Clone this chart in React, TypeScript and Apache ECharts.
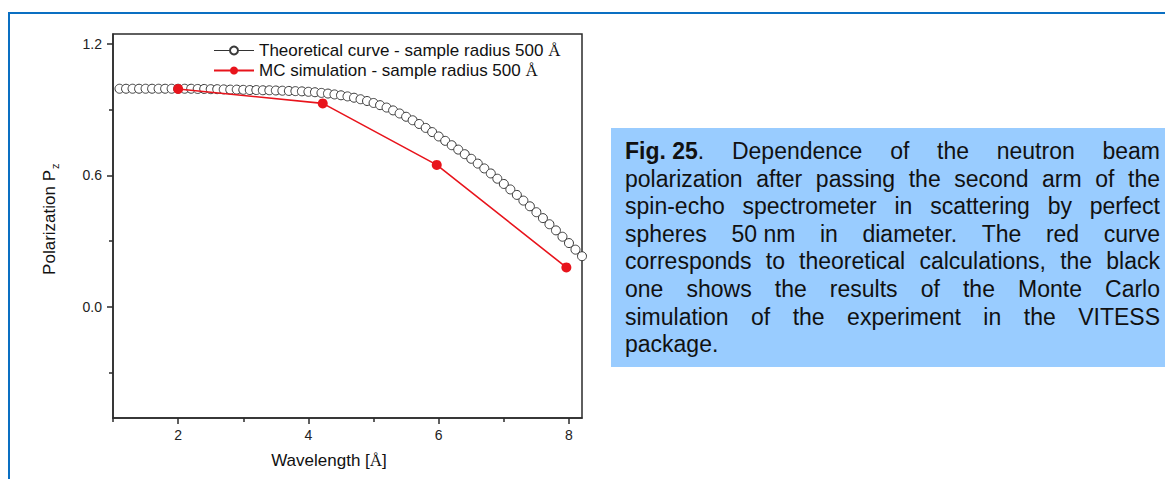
import React, { useEffect, useRef } from "react";
import * as echarts from "echarts";

// ---------- data ----------
const theoryX = [
  1.1, 1.2, 1.3, 1.4, 1.5, 1.6, 1.7, 1.8, 1.9, 2.0,
  2.1, 2.2, 2.3, 2.4, 2.5, 2.6, 2.7, 2.8, 2.9, 3.0,
  3.1, 3.2, 3.3, 3.4, 3.5, 3.6, 3.7, 3.8, 3.9, 4.0,
  4.1, 4.2, 4.3, 4.4, 4.5, 4.6, 4.7, 4.8, 4.9, 5.0,
  5.1, 5.2, 5.3, 5.4, 5.5, 5.6, 5.7, 5.8, 5.9, 6.0,
  6.1, 6.2, 6.3, 6.4, 6.5, 6.6, 6.7, 6.8, 6.9, 7.0,
  7.1, 7.2, 7.3, 7.4, 7.5, 7.6, 7.7, 7.8, 7.9, 8.0, 8.1, 8.2,
];
const theoryY = [
  0.996, 0.996, 0.996, 0.996, 0.996, 0.996, 0.996, 0.996, 0.996, 0.996,
  0.996, 0.996, 0.995, 0.995, 0.994, 0.994, 0.993, 0.992, 0.992, 0.991,
  0.990, 0.990, 0.989, 0.989, 0.988, 0.987, 0.986, 0.985, 0.984, 0.982,
  0.980, 0.977, 0.974, 0.970, 0.966, 0.961, 0.955, 0.948, 0.940, 0.931,
  0.921, 0.910, 0.897, 0.883, 0.868, 0.852, 0.835, 0.817, 0.798, 0.778,
  0.758, 0.738, 0.718, 0.697, 0.676, 0.654, 0.632, 0.609, 0.585, 0.561,
  0.536, 0.511, 0.485, 0.459, 0.432, 0.405, 0.377, 0.349, 0.320, 0.291, 0.261, 0.231,
];
const mcX = [2.0, 4.22, 5.97, 7.96];
const mcY = [0.995, 0.929, 0.648, 0.18];

const xLabelValues = [2, 4, 6, 8];
const xMinorTickValues = [1, 3, 5, 7];
const yLabelValues = [0, 0.6, 1.2];
const yMinorTickValues = [-0.3, 0.3, 0.9];

const seriesNames = [
  "Theoretical curve - sample radius 500 Å",
  "MC simulation - sample radius 500 Å",
];
const xAxisTitle = "Wavelength [Å]";
const yAxisTitle = "Polarization P";
const yAxisTitleSub = "z";

const captionBold = "Fig. 25";
const captionLines = [
  "Fig. 25. Dependence of the neutron beam",
  "polarization after passing the second arm of the",
  "spin-echo spectrometer in scattering by perfect",
  "spheres 50 nm in diameter. The red curve",
  "corresponds to theoretical calculations, the black",
  "one shows the results of the Monte Carlo",
  "simulation of the experiment in the VITESS",
  "package.",
];

// ---------- styles ----------
const SANS = '"Liberation Sans", Arial, Helvetica, sans-serif';
const SERIF = '"Liberation Serif", "Times New Roman", serif';
const AXIS = "#2b2b2b";
const RED = "#e8141c";

const CAP_FONT = 23;
const CAP_LEFT = 625;
const CAP_RIGHT = 1160;
const CAP_TOP = 151;
const CAP_LINE = 27.6;

function measure(text: string, font: string): number {
  const c = document.createElement("canvas").getContext("2d")!;
  c.font = font;
  return c.measureText(text).width;
}

function buildCaption(): any[] {
  const normalFont = `${CAP_FONT}px ${SANS}`;
  const boldFont = `bold ${CAP_FONT}px ${SANS}`;
  const out: any[] = [];
  captionLines.forEach((line, li) => {
    let tokens: { text: string; w: number; bold?: boolean; rest?: string }[] = [];
    let rest = line;
    if (li === 0 && line.startsWith(captionBold)) {
      const after = line.slice(captionBold.length);
      const firstSpace = after.indexOf(" ");
      const punct = after.slice(0, firstSpace);
      tokens.push({
        text: captionBold,
        rest: punct,
        bold: true,
        w: measure(captionBold, boldFont) + measure(punct, normalFont),
      });
      rest = after.slice(firstSpace + 1);
    }
    // keep "50 nm" together
    const words = rest.replace("50 nm", "50\u00a0nm").split(" ");
    words.forEach((w) => {
      const t = w.replace("\u00a0", " ");
      tokens.push({ text: t, w: measure(t, normalFont) });
    });
    const y = CAP_TOP + li * CAP_LINE;
    const total = tokens.reduce((s, t) => s + t.w, 0);
    const last = li === captionLines.length - 1;
    const gap = last || tokens.length < 2
      ? measure(" ", normalFont)
      : (CAP_RIGHT - CAP_LEFT - total) / (tokens.length - 1);
    let x = CAP_LEFT;
    tokens.forEach((t) => {
      out.push({
        type: "text",
        x,
        y,
        z: 10,
        style: t.bold
          ? {
              text: `{b|${t.text}}${t.rest}`,
              rich: {
                b: { fontWeight: "bold", fontSize: CAP_FONT, fontFamily: SANS, fill: "#111" },
              },
              fontSize: CAP_FONT,
              fontFamily: SANS,
              fill: "#111",
              align: "left",
              verticalAlign: "middle",
            }
          : {
              text: t.text,
              fontSize: CAP_FONT,
              fontFamily: SANS,
              fill: "#111",
              align: "left",
              verticalAlign: "middle",
            },
      });
      x += t.w + gap;
    });
  });
  return out;
}

export default function App() {
  const ref = useRef<HTMLDivElement>(null);

  useEffect(() => {
    if (!ref.current) return;
    const chart = echarts.init(ref.current, undefined, { renderer: "svg" });

    const theoryData = theoryX.map((x, i) => [x, theoryY[i]]);
    const mcData = mcX.map((x, i) => [x, mcY[i]]);
    const axisLine = { color: AXIS, width: 1.5 };

    const option: any = {
      animation: false,
      backgroundColor: "#ffffff",
      textStyle: { fontFamily: SANS },
      grid: {
        left: 113,
        top: 34,
        width: 469,
        height: 384,
        show: true,
        borderColor: AXIS,
        borderWidth: 1.5,
        backgroundColor: "transparent",
      },
      xAxis: [
        {
          type: "value",
          min: 1,
          max: 8.2,
          position: "bottom",
          axisLine: { show: true, onZero: false, lineStyle: axisLine },
          axisTick: { show: true, inside: false, length: 6, customValues: xLabelValues, lineStyle: axisLine },
          axisLabel: {
            customValues: xLabelValues,
            margin: 10,
            fontSize: 14,
            color: "#222",
            fontFamily: SANS,
            formatter: (v: number) => String(v),
          },
          splitLine: { show: false },
        },
        {
          type: "value",
          min: 1,
          max: 8.2,
          position: "bottom",
          axisLine: { show: false, onZero: false },
          axisTick: { show: true, inside: false, length: 4, customValues: xMinorTickValues, lineStyle: axisLine },
          axisLabel: { show: false },
          splitLine: { show: false },
        },
      ],
      yAxis: [
        {
          type: "value",
          min: -0.508,
          max: 1.246,
          position: "left",
          axisLine: { show: true, onZero: false, lineStyle: axisLine },
          axisTick: { show: true, inside: false, length: 6, customValues: yLabelValues, lineStyle: axisLine },
          axisLabel: {
            customValues: yLabelValues,
            margin: 11,
            fontSize: 14,
            color: "#222",
            fontFamily: SANS,
            formatter: (v: number) => v.toFixed(1),
          },
          splitLine: { show: false },
        },
        {
          type: "value",
          min: -0.508,
          max: 1.246,
          position: "left",
          axisLine: { show: false, onZero: false },
          axisTick: { show: true, inside: false, length: 4, customValues: yMinorTickValues, lineStyle: axisLine },
          axisLabel: { show: false },
          splitLine: { show: false },
        },
      ],
      legend: {
        orient: "vertical",
        left: 208,
        top: 37,
        itemWidth: 40,
        itemHeight: 10,
        itemGap: 3,
        selectedMode: false,
        textStyle: {
          fontSize: 17,
          color: "#111",
          fontFamily: SANS,
          rich: { s: { fontSize: 17, color: "#111", fontFamily: SERIF } },
        },
        formatter: (name: string) => name.replace("Å", "{s|Å}"),
        data: [
          {
            name: seriesNames[0],
            lineStyle: { color: "#333", width: 1, opacity: 1 },
          },
          { name: seriesNames[1] },
        ],
      },
      series: [
        {
          name: seriesNames[0],
          type: "line",
          xAxisIndex: 0,
          yAxisIndex: 0,
          data: theoryData,
          symbol: "circle",
          symbolSize: 9,
          showAllSymbol: true,
          clip: true,
          lineStyle: { color: "#333", width: 1, opacity: 0 },
          itemStyle: { color: "#ffffff", borderColor: "#3a3a3a", borderWidth: 1 },
          z: 2,
        },
        {
          name: seriesNames[1],
          type: "line",
          xAxisIndex: 0,
          yAxisIndex: 0,
          data: mcData,
          symbol: "circle",
          symbolSize: 10,
          lineStyle: { color: RED, width: 1.6 },
          itemStyle: { color: RED },
          z: 3,
        },
      ],
      graphic: [
        {
          type: "rect",
          z: 0,
          silent: true,
          shape: { x: 9, y: 13, width: 1200, height: 520 },
          style: { fill: "none", stroke: "#0a6fc2", lineWidth: 2 },
        },
        {
          type: "rect",
          z: 1,
          silent: true,
          shape: { x: 611, y: 128, width: 600, height: 239 },
          style: { fill: "#99ccff" },
        },
        ...buildCaption(),
        {
          type: "text",
          x: 329,
          y: 460,
          style: {
            text: xAxisTitle.replace("Å", "{s|Å}"),
            rich: { s: { fontSize: 17, fontFamily: SERIF, fill: "#111" } },
            fontSize: 17,
            fontFamily: SANS,
            fill: "#111",
            align: "center",
            verticalAlign: "middle",
          },
        },
        {
          type: "group",
          x: 49,
          y: 170,
          rotation: Math.PI / 2,
          children: [
            {
              type: "text",
              x: 0,
              y: 0,
              style: {
                text: yAxisTitle,
                fontSize: 17,
                fontFamily: SANS,
                fill: "#111",
                align: "right",
                verticalAlign: "middle",
              },
            },
            {
              type: "text",
              x: 1,
              y: 6,
              style: {
                text: yAxisTitleSub,
                fontSize: 11,
                fontFamily: SANS,
                fill: "#111",
                align: "left",
                verticalAlign: "middle",
              },
            },
          ],
        },
      ],
    };

    chart.setOption(option);
    return () => chart.dispose();
  }, []);

  return (
    <div
      ref={ref}
      style={{ position: "absolute", left: 0, top: 0, width: 1165, height: 479 }}
    />
  );
}
